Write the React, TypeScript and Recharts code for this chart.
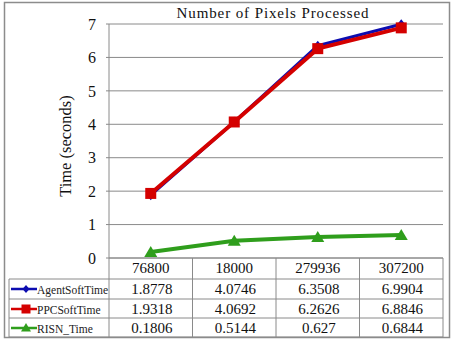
import React from 'react';
import { LineChart, Line, XAxis, YAxis, CartesianGrid, Customized } from 'recharts';

const categories = ['76800', '18000', '279936', '307200'];
const agentSoftTime = [1.8778, 4.0746, 6.3508, 6.9904];
const ppcSoftTime = [1.9318, 4.0692, 6.2626, 6.8846];
const risnTime = [0.1806, 0.5144, 0.627, 0.6844];
const agentLabels = ['1.8778', '4.0746', '6.3508', '6.9904'];
const ppcLabels = ['1.9318', '4.0692', '6.2626', '6.8846'];
const risnLabels = ['0.1806', '0.5144', '0.627', '0.6844'];
const yTicks = [0, 1, 2, 3, 4, 5, 6, 7];

const seriesNames = ['AgentSoftTime', 'PPCSoftTime', 'RISN_Time'];
const BLUE = '#0d0db0';
const RED = '#d40000';
const GREEN = '#2f9e1c';
const FONT = '"Liberation Serif", "DejaVu Serif", serif';
const GRID = '#8a8a8a';

const data = categories.map((c, i) => ({
  cat: c,
  agent: agentSoftTime[i],
  ppc: ppcSoftTime[i],
  risn: risnTime[i],
}));

const W = 454;
const H = 340;
const MARGIN = { top: 24, right: 11, bottom: 2, left: 0 };
const Y_AXIS_W = 109;
const X_AXIS_H = 80;
const PLOT_LEFT = MARGIN.left + Y_AXIS_W;
const PLOT_RIGHT = W - MARGIN.right;
const BAND = (PLOT_RIGHT - PLOT_LEFT) / categories.length;

const Diamond = (p: any) => {
  const { cx, cy } = p;
  if (cx == null || cy == null) return null;
  return <path d={`M${cx},${cy - 5} L${cx + 4},${cy} L${cx},${cy + 5} L${cx - 4},${cy} Z`} fill={BLUE} />;
};
const Square = (p: any) => {
  const { cx, cy } = p;
  if (cx == null || cy == null) return null;
  return <rect x={cx - 5.5} y={cy - 5.5} width={11} height={11} fill={RED} />;
};
const Triangle = (p: any) => {
  const { cx, cy } = p;
  if (cx == null || cy == null) return null;
  return <path d={`M${cx},${cy - 6} L${cx + 6.5},${cy + 5} L${cx - 6.5},${cy + 5} Z`} fill={GREEN} />;
};

const rowLabels = [agentLabels, ppcLabels, risnLabels];
const rowColors = [BLUE, RED, GREEN];
const rowTops = [21, 41, 60];
const rowBottom = 79;

const legendMarker = (i: number, cx: number, cy: number) => {
  if (i === 0) return <path d={`M${cx},${cy - 4} L${cx + 3.5},${cy} L${cx},${cy + 4} L${cx - 3.5},${cy} Z`} fill={BLUE} />;
  if (i === 1) return <rect x={cx - 4.5} y={cy - 4.5} width={9} height={9} fill={RED} />;
  return <path d={`M${cx},${cy - 5} L${cx + 5},${cy + 3.5} L${cx - 5},${cy + 3.5} Z`} fill={GREEN} />;
};

const TableTick = (props: any) => {
  const { x, y, payload, index } = props;
  const cx = x;
  const left = cx - BAND / 2;
  const right = cx + BAND / 2;
  const tableLeft = 9;
  return (
    <g>
      <text x={cx} y={y + 15} textAnchor="middle" fontSize={15} fontFamily={FONT} fill="#111">
        {payload.value}
      </text>
      {rowLabels.map((labels, r) => (
        <text key={r} x={cx + 1} y={y + rowTops[r] + 15} textAnchor="middle" fontSize={15} fontFamily={FONT} fill="#111">
          {labels[index]}
        </text>
      ))}
      <line x1={right} y1={y} x2={right} y2={y + rowBottom} stroke={GRID} strokeWidth={1} />
      {index === 0 && (
        <g>
          <line x1={left} y1={y} x2={left} y2={y + rowBottom} stroke={GRID} strokeWidth={1} />
          <line x1={tableLeft} y1={y + rowTops[0]} x2={tableLeft} y2={y + rowBottom} stroke={GRID} strokeWidth={1} />
          {[...rowTops, rowBottom].map((t, k) => (
            <line key={k} x1={tableLeft} y1={y + t} x2={PLOT_RIGHT} y2={y + t} stroke={GRID} strokeWidth={1} />
          ))}
          {seriesNames.map((n, r) => {
            const cy = y + rowTops[r] + 10;
            return (
              <g key={n}>
                <line x1={tableLeft + 2} y1={cy} x2={tableLeft + 28} y2={cy} stroke={rowColors[r]} strokeWidth={2.5} />
                {legendMarker(r, tableLeft + 17, cy)}
                <text x={tableLeft + 28} y={cy + 4.5} fontSize={11.5} fontFamily={FONT} fill="#222">
                  {n}
                </text>
              </g>
            );
          })}
        </g>
      )}
    </g>
  );
};

const Decor = () => (
  <g>
    <rect x={4.5} y={2.5} width={445} height={335} fill="none" stroke="#8c8c8c" strokeWidth={1.5} />
    <text x={273} y={18} textAnchor="middle" fontSize={15} letterSpacing={0.9} fontFamily={FONT} fill="#111">
      Number of Pixels Processed
    </text>
    <text x={71} y={146} transform="rotate(-90 71 146)" textAnchor="middle" fontSize={16.5} fontFamily={FONT} fill="#111">
      Time (seconds)
    </text>
  </g>
);

export default function App() {
  return (
    <div style={{ position: 'absolute', left: 0, top: 0, width: W, height: H, background: '#fff' }}>
      <LineChart width={W} height={H} data={data} margin={MARGIN}>
        <CartesianGrid vertical={false} stroke={GRID} strokeWidth={1} />
        <XAxis
          dataKey="cat"
          scale="band"
          interval={0}
          tickLine={false}
          tickSize={0}
          tickMargin={0}
          height={X_AXIS_H}
          axisLine={{ stroke: GRID }}
          tick={<TableTick />}
        />
        <YAxis
          domain={[0, 7]}
          ticks={yTicks}
          width={Y_AXIS_W}
          tickSize={3}
          tickMargin={10}
          interval={0}
          axisLine={{ stroke: GRID }}
          tickLine={{ stroke: GRID }}
          tick={{ fontSize: 16, fontFamily: FONT, fill: '#111' }}
        />
        <Line dataKey="agent" stroke={BLUE} strokeWidth={3} dot={<Diamond />} activeDot={false} isAnimationActive={false} />
        <Line dataKey="ppc" stroke={RED} strokeWidth={4} dot={<Square />} activeDot={false} isAnimationActive={false} />
        <Line dataKey="risn" stroke={GREEN} strokeWidth={4} dot={<Triangle />} activeDot={false} isAnimationActive={false} />
        <Customized component={<Decor />} />
      </LineChart>
    </div>
  );
}
